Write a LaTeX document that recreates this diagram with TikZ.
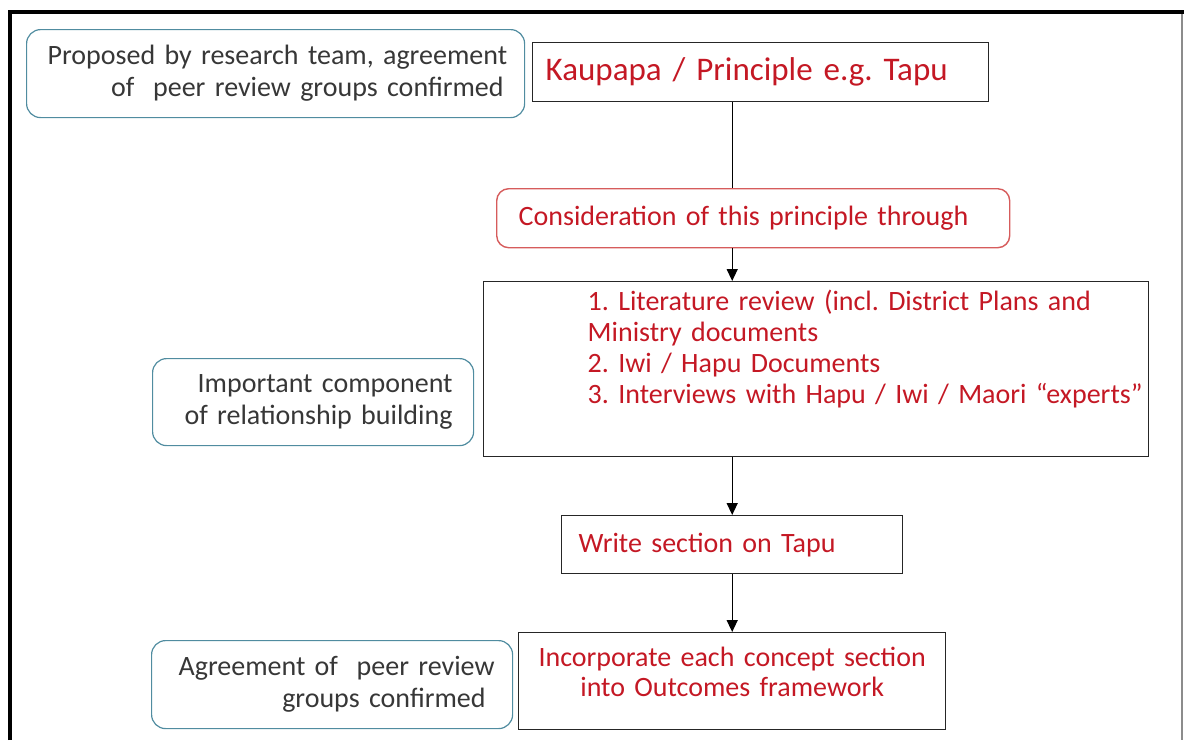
\documentclass[tikz,border=0pt]{standalone}
\usepackage{fontspec}
\setmainfont{Carlito}
\usepackage{tikz}
\usetikzlibrary{positioning,arrows.meta}
\usepackage{xcolor}
\definecolor{notecol}{RGB}{80,140,160}
\definecolor{notetext}{RGB}{55,55,55}
\definecolor{flowred}{RGB}{196,24,36}
\definecolor{roundred}{RGB}{214,92,92}
\frenchspacing

\begin{document}
\begin{tikzpicture}[x=1pt, y=-1pt, >={Triangle[width=11pt,length=12pt]}, font=\fontsize{28}{32}\selectfont]
\tikzstyle{flowbox} = [draw=black!85, line width=1.4pt, anchor=north west, inner ysep=0pt, text=flowred]
\tikzstyle{notebox} = [draw=notecol, line width=1.2pt, rounded corners=14pt, anchor=north west, inner ysep=0pt, align=right, text=notetext]
\tikzstyle{link} = [->, line width=1.4pt]

\useasboundingbox (0,0) rectangle (1184,740);
\draw[line width=4pt] (10,740) -- (10,12) -- (1184,12);
\draw[black!45, line width=1.2pt] (1182,14) -- (1182,740);

\node[notebox, text width=456pt, inner xsep=21pt, minimum height=88pt] (proposed) at (26,29) {\mbox{Proposed by research team, agreement}\\ \mbox{of~ peer review groups confirmed}};
\node[flowbox, text width=430pt, inner xsep=13pt, minimum height=59pt, align=left, font=\fontsize{33}{38}\selectfont] (kaupapa) at (532,42) {Kaupapa / Principle e.g. Tapu};
\node[flowbox, draw=roundred, rounded corners=12pt, text width=469pt, inner xsep=22pt, minimum height=59pt, align=left] (consid) at (496,188) {Consideration of this principle through};
\node[flowbox, text width=645pt, inner xsep=10pt, minimum height=175pt, align=left, font=\fontsize{28}{31}\selectfont] (sources) at (483,281) {\hspace*{94pt}1. Literature review (incl. District Plans and\\ \hspace*{94pt}Ministry documents\\ \hspace*{94pt}2. Iwi / Hapu Documents\\ \hspace*{94pt}\mbox{3. Interviews with Hapu / Iwi / Maori “experts”}\\[13pt]\mbox{}};
\node[notebox, text width=279pt, inner xsep=21pt, minimum height=87pt] (relation) at (152,358) {\mbox{Important component}\\ \mbox{of relationship building}};
\node[flowbox, text width=307pt, inner xsep=17pt, minimum height=58pt, align=left] (write) at (561,515) {Write section on Tapu};
\node[flowbox, text width=401pt, inner xsep=13pt, minimum height=97pt, align=center, font=\fontsize{28}{30}\selectfont] (incorporate) at (518,632) {Incorporate each concept section\\ into Outcomes framework\\[-11pt]\mbox{}};
\node[notebox, text width=307pt, inner xsep=27pt, minimum height=88pt] (agreement) at (151,640) {\mbox{Agreement of~ peer review}\\ \mbox{groups confirmed}};

\draw[line width=1.4pt] (kaupapa.south -| write) -- (consid.north -| write);
\draw[link] (consid.south -| write) -- (sources.north -| write);
\draw[link] (sources.south -| write) -- (write);
\draw[link] (write) -- (incorporate);
\end{tikzpicture}
\end{document}
